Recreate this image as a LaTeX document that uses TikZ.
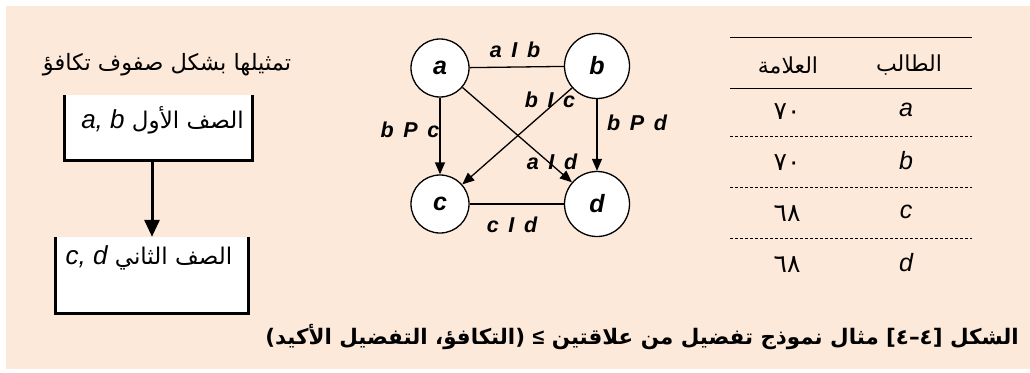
\documentclass[tikz,border=0pt]{standalone}
\usepackage{fontspec}
\usepackage{tikz}
\usetikzlibrary{arrows.meta,positioning}
\setmainfont{Liberation Sans}
\newfontfamily\arabicfont[Script=Arabic]{DejaVu Sans}
\TeXXeTstate=1
\definecolor{softpeach}{RGB}{253,233,217}
\newcommand\relgap{\hspace{0.45em}}

\begin{document}
\begin{tikzpicture}[x=1pt, y=-1pt, every node/.style={inner sep=0pt},
    vertex/.style={draw, circle, fill=white, line width=1.3pt, font=\fontsize{25}{27}\selectfont\bfseries\itshape},
    rel/.style={font=\fontsize{21.5}{23}\selectfont\bfseries\itshape},
    link/.style={line width=1.3pt},
    arrow/.style={link, -{Triangle[length=12pt,width=10pt]}},
    bin/.style={fill=white},
    binframe/.style={line width=3pt},
    artext/.style={font=\fontsize{22}{24}\selectfont\arabicfont},
    cell/.style={font=\fontsize{25}{27}\selectfont\itshape}]
        \useasboundingbox (0,0) rectangle (1030,372);
        \fill[softpeach] (6,6) rectangle (1030,369);

        \node[artext, font=\fontsize{22.5}{24}\selectfont\arabicfont] (rowscap) at (167,65) {\beginR تمثيلها بشكل صفوف تكافؤ\endR};
        \node[bin, minimum width=187pt, minimum height=65pt] (row1) at (158.5,127.5) {};
        \node[bin, minimum width=192pt, minimum height=76pt] (row2) at (152,275) {};
        \draw[binframe] (row1.north west) |- (row1.south east) -- (row1.north east);
        \draw[binframe] (row2.north west) |- (row2.south east) -- (row2.north east);
        \node[artext, font=\fontsize{23}{25}\selectfont\arabicfont] (row1txt) at (162.5,120) {\beginR الصف الأول \beginL{\fontsize{26}{28}\selectfont\rmfamily\itshape a, b}\endL\endR};
        \node[artext, font=\fontsize{23}{25}\selectfont\arabicfont] (row2txt) at (149,258) {\beginR الصف الثاني \beginL{\fontsize{26}{28}\selectfont\rmfamily\itshape c, d}\endL\endR};
        \draw[binframe, -{Triangle[length=17pt,width=15pt]}] (row2.north |- row1.south) -- (row2.north);

        \node[vertex, minimum size=58pt] (a) at (440,68) {a};
        \node[vertex, minimum size=65pt] (b) at (597,66) {b};
        \node[vertex, minimum size=58pt] (c) at (440,204) {c};
        \node[vertex, minimum size=65pt] (d) at (597,204) {d};
        \draw[link] (a) -- (b);
        \draw[link] (c) -- (d);
        \draw[arrow] (a) -- (c);
        \draw[arrow] (b) -- (d);
        \draw[arrow] (a) -- (d);
        \draw[arrow] (b) -- (c);
        \node[rel] (ab) at (515,50) {a\relgap I\relgap b};
        \node[rel] (cd) at (512,225) {c\relgap I\relgap d};
        \node[rel] (bpc) at (410,130) {b\relgap P\relgap c};
        \node[rel] (bpd) at (637,123) {b\relgap P\relgap d};
        \node[rel] (bc) at (550,100) {b\relgap I\relgap c};
        \node[rel] (ad) at (552,162) {a\relgap I\relgap d};

        \draw[line width=1pt] (730,37) -- (972,37);
        \draw[line width=1pt] (730,88) -- (972,88);
        \foreach \y in {136.5,187.5,238.5}
          \draw[line width=0.8pt, dash pattern=on 3pt off 2pt] (730,\y) -- (972,\y);
        \node[artext] (mark) at (788,65) {\beginR العلامة\endR};
        \node[artext] (student) at (909,65) {\beginR الطالب\endR};
        \foreach \s/\m [count=\i] in {a/٧٠,b/٧٠,c/٦٨,d/٦٨} {
          \node[cell] (st\s) at (906,{59+51*\i}) {\s};
          \node[artext, font=\fontsize{25}{27}\selectfont\arabicfont] (mk\s) at (787,{61+51*\i}) {\m};
        }

        \node[anchor=east, font=\fontsize{21.4}{23}\selectfont\arabicfont\bfseries] (figcap) at (1019,337) {\beginR الشكل [٤–٤] مثال نموذج تفضيل من علاقتين \beginL{\rmfamily\bfseries ≤}\endL{} (التكافؤ، التفضيل الأكيد)\endR};
      \end{tikzpicture}
\end{document}
